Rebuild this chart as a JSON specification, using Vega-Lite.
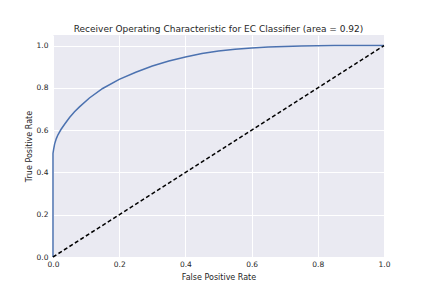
{
  "$schema": "https://vega.github.io/schema/vega-lite/v6.json",
  "autosize": {"type": "none"},
  "width": 331,
  "height": 222,
  "padding": {"left": 53, "top": 35, "right": 44, "bottom": 37},
  "background": "white",
  "title": {
    "text": "Receiver Operating Characteristic for EC Classifier (area = 0.92)",
    "font": "DejaVu Sans",
    "fontSize": 9,
    "fontWeight": "normal",
    "color": "#262626",
    "offset": 1
  },
  "config": {
    "view": {"fill": "#EAEAF2", "stroke": null},
    "axis": {
      "domain": false,
      "ticks": false,
      "labelFlush": false,
      "gridColor": "white",
      "gridWidth": 1,
      "gridOpacity": 1,
      "labelFont": "DejaVu Sans",
      "labelFontSize": 7.5,
      "labelColor": "#262626",
      "titleFont": "DejaVu Sans",
      "titleFontSize": 8,
      "titleFontWeight": "normal",
      "titleColor": "#262626"
    }
  },
  "datasets": {
    "roc": [
      {"fpr": 0.0, "tpr": 0.0},
      {"fpr": 0.0, "tpr": 0.49},
      {"fpr": 0.002, "tpr": 0.51},
      {"fpr": 0.005, "tpr": 0.535},
      {"fpr": 0.01, "tpr": 0.56},
      {"fpr": 0.015, "tpr": 0.578},
      {"fpr": 0.024, "tpr": 0.603},
      {"fpr": 0.035, "tpr": 0.628},
      {"fpr": 0.05, "tpr": 0.66},
      {"fpr": 0.065, "tpr": 0.687},
      {"fpr": 0.08, "tpr": 0.71},
      {"fpr": 0.11, "tpr": 0.752},
      {"fpr": 0.15, "tpr": 0.797},
      {"fpr": 0.2, "tpr": 0.84},
      {"fpr": 0.25, "tpr": 0.874},
      {"fpr": 0.3, "tpr": 0.903},
      {"fpr": 0.35, "tpr": 0.927},
      {"fpr": 0.4, "tpr": 0.946},
      {"fpr": 0.45, "tpr": 0.962},
      {"fpr": 0.5, "tpr": 0.974},
      {"fpr": 0.55, "tpr": 0.983},
      {"fpr": 0.6, "tpr": 0.989},
      {"fpr": 0.65, "tpr": 0.993},
      {"fpr": 0.7, "tpr": 0.996},
      {"fpr": 0.75, "tpr": 0.998},
      {"fpr": 0.8, "tpr": 0.999},
      {"fpr": 0.85, "tpr": 1.0},
      {"fpr": 1.0, "tpr": 1.0}
    ],
    "diag": [
      {"fpr": 0.0, "tpr": 0.0},
      {"fpr": 1.0, "tpr": 1.0}
    ]
  },
  "encoding": {
    "x": {
      "field": "fpr", "type": "quantitative",
      "scale": {"domain": [0, 1], "nice": false, "zero": false},
      "axis": {"values": [0, 0.2, 0.4, 0.6, 0.8, 1.0], "format": ".1f", "title": "False Positive Rate", "labelPadding": 3, "titlePadding": 6}
    },
    "y": {
      "field": "tpr", "type": "quantitative",
      "scale": {"domain": [0, 1.05], "nice": false, "zero": false},
      "axis": {"values": [0, 0.2, 0.4, 0.6, 0.8, 1.0], "format": ".1f", "title": "True Positive Rate", "labelPadding": 5, "titlePadding": 3}
    }
  },
  "layer": [
    {
      "data": {"name": "roc"},
      "mark": {"type": "line", "color": "#4C72B0", "strokeWidth": 1.5, "interpolate": "linear"},
      "encoding": {}
    },
    {
      "data": {"name": "diag"},
      "mark": {"type": "line", "color": "black", "strokeWidth": 1.5, "strokeDash": [4, 2.5]},
      "encoding": {}
    }
  ]
}
